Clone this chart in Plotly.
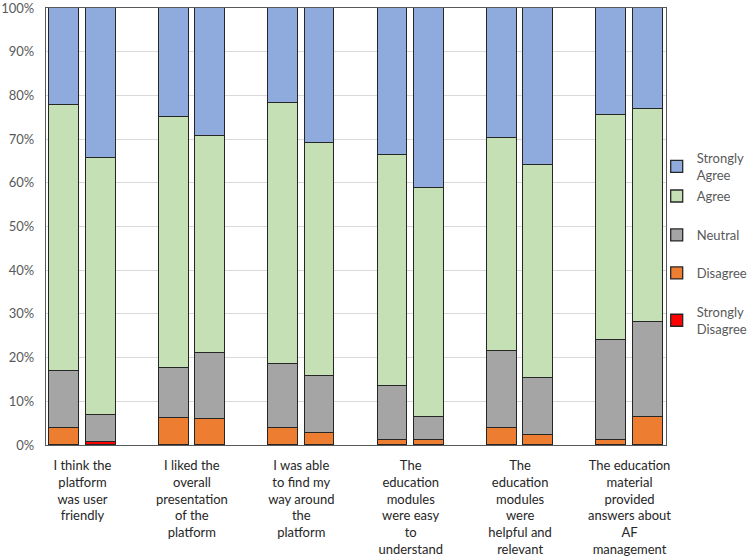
import plotly.graph_objects as go

# ---- data (percent of respondents) ----
questions = [
    "I think the<br>platform<br>was user<br>friendly",
    "I liked the<br>overall<br>presentation<br>of the<br>platform",
    "I was able<br>to find my<br>way around<br>the<br>platform",
    "The<br>education<br>modules<br>were easy<br>to<br>understand",
    "The<br>education<br>modules<br>were<br>helpful and<br>relevant",
    "The education<br>material<br>provided<br>answers about<br>AF<br>management",
]
strongly_disagree = [0.0, 0.8, 0.0, 0.0, 0.0, 0.0, 0.0, 0.0, 0.0, 0.0, 0.0, 0.0]
disagree = [3.9, 0.0, 6.2, 6.0, 4.0, 2.7, 1.2, 1.2, 4.0, 2.4, 1.2, 6.3]
neutral = [13.0, 6.1, 11.4, 15.1, 14.5, 13.0, 12.2, 5.1, 17.5, 12.9, 22.9, 21.8]
agree = [61.0, 58.7, 57.4, 49.6, 59.7, 53.5, 52.9, 52.6, 48.8, 48.8, 51.5, 48.8]
strongly_agree = [22.1, 34.4, 25.0, 29.3, 21.8, 30.8, 33.7, 41.1, 29.7, 35.9, 24.4, 23.1]
y_ticks = [0, 10, 20, 30, 40, 50, 60, 70, 80, 90, 100]

# two bars per question, one empty slot between questions
x_pos = []
for g in range(len(questions)):
    x_pos += [3 * g, 3 * g + 1]
tick_pos = [3 * g + 0.5 for g in range(len(questions))]

series = [
    ("Strongly<br>Disagree", strongly_disagree, "#FF0000", "legend5", 0.339),
    ("Disagree", disagree, "#ED7D31", "legend4", 0.428),
    ("Neutral", neutral, "#A5A5A5", "legend3", 0.515),
    ("Agree", agree, "#C5E0B4", "legend2", 0.604),
    ("Strongly<br>Agree", strongly_agree, "#8FAADC", "legend", 0.691),
]

fig = go.Figure()
for name, vals, color, leg, _ in series:
    fig.add_trace(go.Bar(
        x=x_pos, y=vals, name=name, legend=leg, showlegend=True,
        marker=dict(color=color, line=dict(color="#262626", width=1.3)),
        width=0.82,
    ))

font_fam = "Lato, 'Open Sans', sans-serif"
layout_legends = {}
for name, vals, color, leg, ypos in series:
    layout_legends[leg] = dict(
        x=0.985, xanchor="left", y=ypos, yanchor="top",
        bgcolor="rgba(0,0,0,0)", borderwidth=0,
        font=dict(family=font_fam, size=13, color="#595959"),
        itemwidth=30,
    )

fig.update_layout(
    width=747, height=557,
    barmode="stack",
    bargap=0,
    showlegend=True,
    paper_bgcolor="white", plot_bgcolor="white",
    margin=dict(l=46, r=81, t=8, b=112, autoexpand=False),
    font=dict(family=font_fam, size=13, color="#595959"),
    **layout_legends,
)
fig.update_xaxes(
    range=[-0.5, 16.5], tickmode="array", tickvals=tick_pos, ticktext=questions,
    showline=True, linecolor="#595959", linewidth=1.3, mirror=True,
    showgrid=False, zeroline=False, ticks="",
    tickfont=dict(family=font_fam, size=13, color="#262626"),
    ticklabelstandoff=8,
)
fig.update_yaxes(
    range=[0, 100.01], tickmode="array", tickvals=y_ticks,
    ticktext=[f"{v}%" for v in y_ticks],
    showline=True, linecolor="#595959", linewidth=1.3, mirror=True,
    showgrid=True, gridcolor="#D9D9D9", gridwidth=1, zeroline=False, ticks="",
    tickfont=dict(family=font_fam, size=13, color="#595959"),
    ticklabelstandoff=8, ticklabeloverflow="allow",
)

fig.write_html("out.html", post_script="document.body.style.margin='0';",
               config={"displayModeBar": False})
